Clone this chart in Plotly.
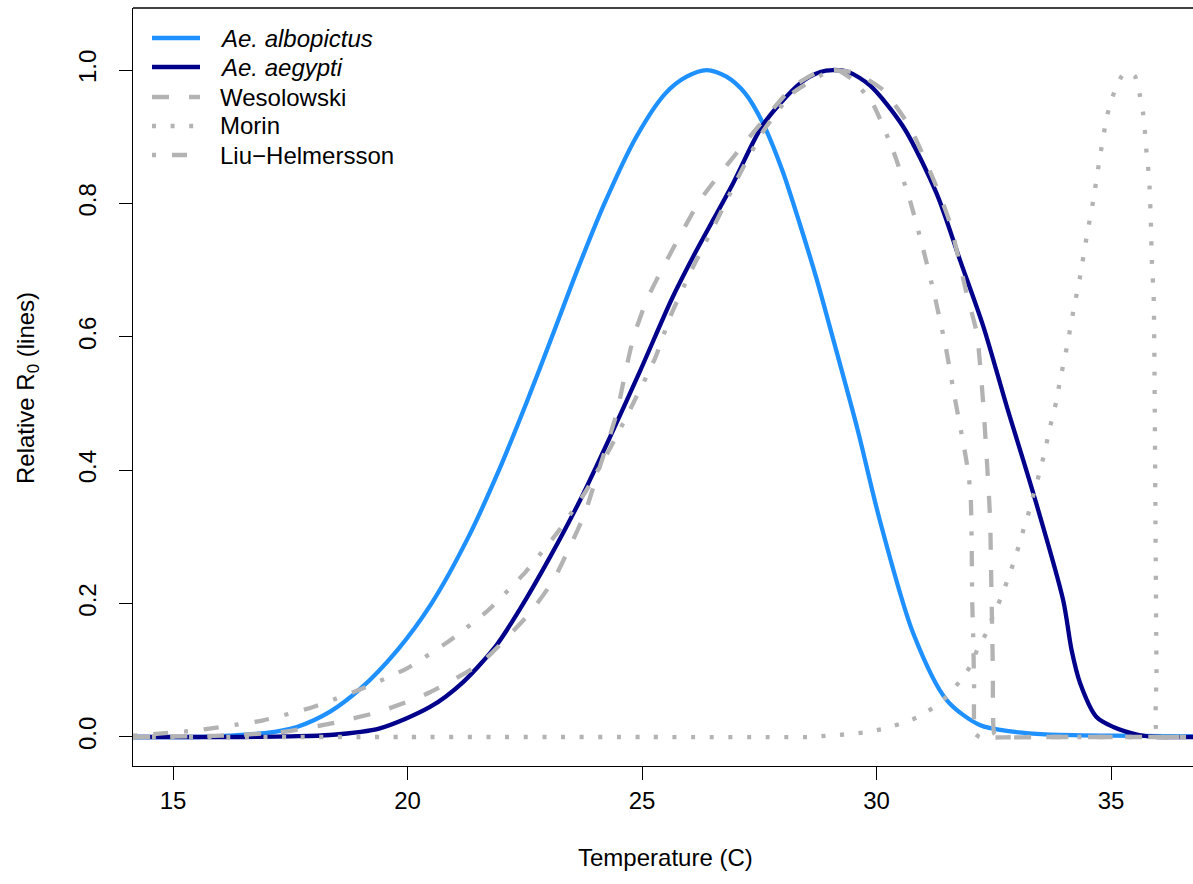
import plotly.graph_objects as go

# ---- data ----
albo_x = [14.15, 15.5, 16.2, 17.0, 17.64, 18.35, 18.99, 19.78, 20.51, 21.3, 21.95, 22.53, 23.08,
          23.62, 24.2, 24.88, 25.5, 25.95, 26.38, 26.8, 27.2, 27.58, 28.0, 28.37, 28.73, 29.07,
          29.6, 30.07, 30.78, 31.5, 32.2, 32.9, 33.6, 35.0, 36.75]
albo_y = [0.0, 0.0, 0.002, 0.006, 0.015, 0.038, 0.072, 0.13, 0.2, 0.3, 0.4, 0.5, 0.6,
          0.7, 0.8, 0.9, 0.965, 0.99, 1.0, 0.99, 0.965, 0.92, 0.848, 0.768, 0.685, 0.598,
          0.46, 0.325, 0.156, 0.055, 0.018, 0.008, 0.004, 0.002, 0.001]

aeg_x = [14.15, 16.5, 17.5, 18.35, 19.41, 20.48, 21.18, 21.9, 22.4, 23.04, 23.68, 24.32,
         24.96, 25.63, 26.09, 26.94, 27.58, 28.37, 28.8, 29.07, 29.4, 29.86, 30.57, 31.28,
         31.78, 32.28, 32.78, 33.34, 33.98, 34.16, 34.34, 34.69, 35.05, 35.6, 36.0, 36.75]
aeg_y = [0.0, 0.0, 0.001, 0.003, 0.013, 0.045, 0.082, 0.138, 0.192, 0.27, 0.355, 0.45,
         0.549, 0.656, 0.72, 0.83, 0.918, 0.98, 0.997, 1.0, 0.997, 0.977, 0.915, 0.815,
         0.715, 0.615, 0.495, 0.366, 0.205, 0.13, 0.081, 0.03, 0.015, 0.003, 0.0, 0.0]

wes_x = [14.15, 16.0, 17.28, 18.35, 19.41, 20.48, 21.55, 22.61, 23.11, 23.46, 23.78, 24.03, 24.46,
         24.64, 24.82, 25.1, 25.38, 26.24, 27.24, 28.22, 28.7, 29.1, 29.58, 30.14, 30.71, 31.28,
         31.57, 31.92, 32.14, 32.28, 32.42, 32.45, 32.48, 32.51, 32.6, 33.5, 34.5, 35.5, 36.75]
wes_y = [0.0, 0.002, 0.007, 0.02, 0.038, 0.067, 0.11, 0.186, 0.235, 0.285, 0.335, 0.39, 0.485,
         0.545, 0.6, 0.655, 0.695, 0.805, 0.895, 0.975, 0.995, 1.0, 0.995, 0.97, 0.915, 0.825,
         0.77, 0.665, 0.605, 0.495, 0.33, 0.22, 0.105, 0.005, 0.0, 0.0, 0.0, 0.0, 0.0]

mor_x = [14.15, 20.0, 25.0, 28.56, 28.97, 29.36, 29.75, 30.14, 30.52, 30.89, 31.23, 31.53, 31.78,
         32.01, 32.16, 32.35, 32.49, 32.65, 32.79, 32.92, 33.04, 33.15, 33.26, 33.36, 33.47, 33.56,
         33.65, 33.74, 33.83, 33.9, 34.06, 34.2, 34.35, 34.48, 34.62, 34.74, 34.87, 34.95, 35.07,
         35.24, 35.38, 35.51, 35.61, 35.68, 35.72, 35.75, 35.79, 35.82, 35.85, 35.87, 35.91, 35.92,
         35.93, 35.95, 35.97, 35.99, 36.3, 36.75]
mor_y = [0.0, 0.0, 0.0, 0.0, 0.002, 0.004, 0.007, 0.012, 0.02, 0.03, 0.045, 0.063, 0.084,
         0.107, 0.133, 0.157, 0.183, 0.208, 0.235, 0.261, 0.288, 0.315, 0.34, 0.367, 0.395, 0.42,
         0.448, 0.477, 0.502, 0.53, 0.585, 0.64, 0.694, 0.75, 0.804, 0.859, 0.914, 0.941, 0.967,
         0.992, 0.997, 0.991, 0.964, 0.937, 0.91, 0.882, 0.855, 0.826, 0.771, 0.715, 0.66, 0.604,
         0.52, 0.3, 0.1, 0.0, 0.0, 0.0]

liu_x = [14.15, 15.51, 16.92, 17.99, 19.05, 19.99, 20.91, 21.72, 22.46, 23.18, 23.78, 24.32, 24.81,
         25.28, 25.6, 26.09, 26.6, 27.09, 27.6, 28.2, 28.9, 29.15, 29.5, 29.93, 30.36, 30.71, 31.0,
         31.25, 31.48, 31.67, 31.87, 31.96, 32.01, 32.03, 32.04, 32.06, 32.08, 32.1, 32.2, 33.2,
         34.2, 35.2, 36.75]
liu_y = [0.002, 0.01, 0.025, 0.045, 0.073, 0.103, 0.145, 0.19, 0.243, 0.305, 0.366, 0.433, 0.5,
         0.568, 0.63, 0.705, 0.775, 0.845, 0.91, 0.965, 0.995, 1.0, 0.985, 0.948, 0.878, 0.805, 0.73,
         0.658, 0.583, 0.508, 0.433, 0.395, 0.358, 0.282, 0.205, 0.155, 0.08, 0.005, 0.0, 0.0,
         0.0, 0.0, 0.0]

x_ticks = [15, 20, 25, 30, 35]
y_ticks = [0.0, 0.2, 0.4, 0.6, 0.8, 1.0]
y_tick_text = ["0.0", "0.2", "0.4", "0.6", "0.8", "1.0"]

legend_names = ["<i>Ae. albopictus</i>", "<i>Ae. aegypti</i>", "Wesolowski", "Morin",
                "Liu\u2212Helmersson"]

GRAY = "#B3B3B3"
FONT = "Liberation Sans, Arial, Helvetica, sans-serif"
W = 4.3
styles = [
    dict(color="#1E90FF", width=W, dash="solid"),
    dict(color="#00008B", width=W, dash="solid"),
    dict(color=GRAY, width=W, dash="17px,20px"),
    dict(color=GRAY, width=W, dash="4px,14.6px"),
    dict(color=GRAY, width=W, dash="4px,16px,15px,16px"),
]
series = [(albo_x, albo_y, 0.8), (aeg_x, aeg_y, 0.8), (wes_x, wes_y, 0.5),
          (mor_x, mor_y, 0.5), (liu_x, liu_y, 0.5)]

fig = go.Figure()
for (sx, sy, sm), st, nm in zip(series, styles, legend_names):
    fig.add_trace(go.Scatter(x=sx, y=sy, mode="lines", name=nm, showlegend=False,
                             line=dict(color=st["color"], width=st["width"], dash=st["dash"],
                                       shape="spline", smoothing=sm)))

# plot-area geometry in pixels (page is 1193 x 884)
L, R, T, B = 133, 1193, 8, 766
def px(xp):
    return (xp - L) / (R - L)
def py(yp):
    return (B - yp) / (B - T)

shapes = [dict(type="line", xref="paper", yref="paper", x0=0, x1=1, y0=1, y1=1,
               line=dict(color="black", width=1.3))]
annotations = []
leg_rows = [38, 67, 97, 126, 155]
for nm, st, yr in zip(legend_names, styles, leg_rows):
    shapes.append(dict(type="line", xref="paper", yref="paper", x0=px(152), x1=px(200),
                       y0=py(yr), y1=py(yr), line=dict(color=st["color"], width=st["width"],
                                                      dash=st["dash"])))
    annotations.append(dict(text=nm, xref="paper", yref="paper", x=px(218), y=py(yr),
                            xanchor="left", yanchor="middle", showarrow=False,
                            font=dict(size=24)))

annotations += [
    dict(text="Temperature (C)", xref="paper", yref="paper", x=px(665), y=py(857),
         xanchor="center", yanchor="middle", showarrow=False, font=dict(size=24)),
    dict(text="Relative R<sub>0</sub> (lines)", xref="paper", yref="paper",
         x=px(27), y=py(388), xanchor="center", yanchor="middle",
         textangle=-90, showarrow=False, font=dict(size=24)),
]

fig.update_layout(
    width=1193, height=884,
    margin=dict(l=L, r=1193 - R, t=T, b=884 - B),
    paper_bgcolor="white", plot_bgcolor="white",
    font=dict(family=FONT, size=24, color="black"),
    showlegend=False,
    xaxis=dict(range=[14.147, 36.748], tickvals=x_ticks, showgrid=False, zeroline=False,
               showline=True, linecolor="black", linewidth=1.3, ticks="outside", ticklen=13,
               tickwidth=1.3, tickcolor="black", tickfont=dict(size=24)),
    yaxis=dict(range=[-0.0435, 1.093], tickvals=y_ticks, ticktext=y_tick_text, showgrid=False,
               zeroline=False, showline=True, linecolor="black", linewidth=1.3, ticks="outside",
               ticklen=13, tickwidth=1.3, tickcolor="black", tickangle=-90,
               tickfont=dict(size=24), ticklabelstandoff=13),
    shapes=shapes,
    annotations=annotations,
)

fig.write_html(
    "out.html",
    config={"displayModeBar": False},
    post_script="document.body.style.margin='0';document.body.style.overflow='hidden';",
)
